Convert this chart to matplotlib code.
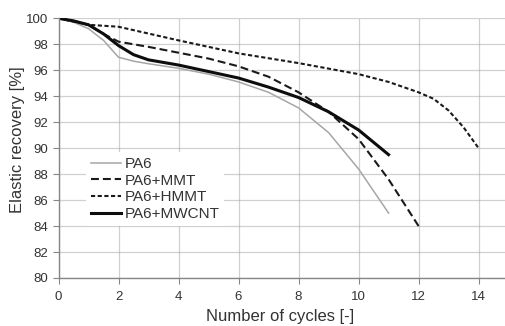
import matplotlib
matplotlib.use("Agg")
import matplotlib.pyplot as plt

plt.rcParams["font.family"] = ["Liberation Sans", "DejaVu Sans"]

# values
x_pa6 = [0, 0.5, 1, 1.5, 2, 2.5, 3, 4, 5, 6, 7, 8, 9, 10, 11]
y_pa6 = [100, 99.7, 99.2, 98.3, 97.0, 96.7, 96.5, 96.15, 95.7, 95.1, 94.3, 93.1, 91.2, 88.4, 85.0]

x_mmt = [0, 0.5, 1, 1.5, 2, 3, 4, 5, 6, 7, 8, 9, 10, 11, 12]
y_mmt = [100, 99.8, 99.5, 98.8, 98.2, 97.8, 97.35, 96.9, 96.3, 95.5, 94.3, 92.8, 90.7, 87.6, 84.0]

x_hmmt = [0, 1, 2, 4, 6, 8, 10, 11, 12, 12.5, 13, 13.5, 14]
y_hmmt = [100, 99.5, 99.35, 98.3, 97.3, 96.55, 95.7, 95.1, 94.3, 93.8, 92.9, 91.6, 90.0]

x_cnt = [0, 0.5, 1, 1.5, 2, 2.5, 3, 4, 5, 6, 7, 8, 9, 10, 11]
y_cnt = [100, 99.8, 99.5, 98.8, 97.9, 97.2, 96.8, 96.4, 95.9, 95.4, 94.7, 93.9, 92.8, 91.4, 89.5]

labels = ["PA6", "PA6+MMT", "PA6+HMMT", "PA6+MWCNT"]
x_ticks = [0, 2, 4, 6, 8, 10, 12, 14]
y_ticks = [80, 82, 84, 86, 88, 90, 92, 94, 96, 98, 100]

fig = plt.figure(figsize=(5.05, 3.26), dpi=100)
ax = fig.add_axes([58.5 / 505, 1 - 278 / 326, 1 - 58.5 / 505, (278 - 18.3) / 326])

ax.plot(x_pa6, y_pa6, color="#a6a6a6", lw=1.1, label=labels[0])
ax.plot(x_mmt, y_mmt, color="#1a1a1a", lw=1.5, dashes=(3.8, 1.9), label=labels[1])
ax.plot(x_hmmt, y_hmmt, color="#1a1a1a", lw=1.5, dashes=(2.0, 1.2), label=labels[2])
ax.plot(x_cnt, y_cnt, color="#0d0d0d", lw=2.2, label=labels[3])

ax.set_xlim(0, 14.88)
ax.set_ylim(80, 100)
ax.set_xticks(x_ticks)
ax.set_yticks(y_ticks)
ax.grid(True, color="#a3a3a3", lw=0.9, linestyle=(0, (0.8, 0.8)))
ax.set_axisbelow(True)

for s in ["top", "right"]:
    ax.spines[s].set_visible(False)
for s in ["left", "bottom"]:
    ax.spines[s].set_color("#868686")
    ax.spines[s].set_linewidth(1.0)
ax.tick_params(length=4, color="#868686", labelsize=9.5, labelcolor="#333333")
ax.tick_params(axis="x", pad=5)

leg = ax.legend(
    loc="upper left",
    bbox_to_anchor=(0.062, 0.484),
    fontsize=11,
    frameon=True,
    fancybox=False,
    edgecolor="none",
    facecolor="white",
    framealpha=1,
    borderaxespad=0,
    borderpad=0.3,
    handlelength=1.95,
    handletextpad=0.25,
    labelspacing=0.18,
)
for t in leg.get_texts():
    t.set_color("#333333")

fig.text(280 / 505, 1 - 316.7 / 326, "Number of cycles [-]", ha="center", va="center",
         fontsize=12, color="#333333")
fig.text(18 / 505, 1 - 140 / 326, "Elastic recovery [%]", ha="center", va="center",
         rotation=90, fontsize=12, color="#333333")

fig.savefig("out.png", dpi=100)
